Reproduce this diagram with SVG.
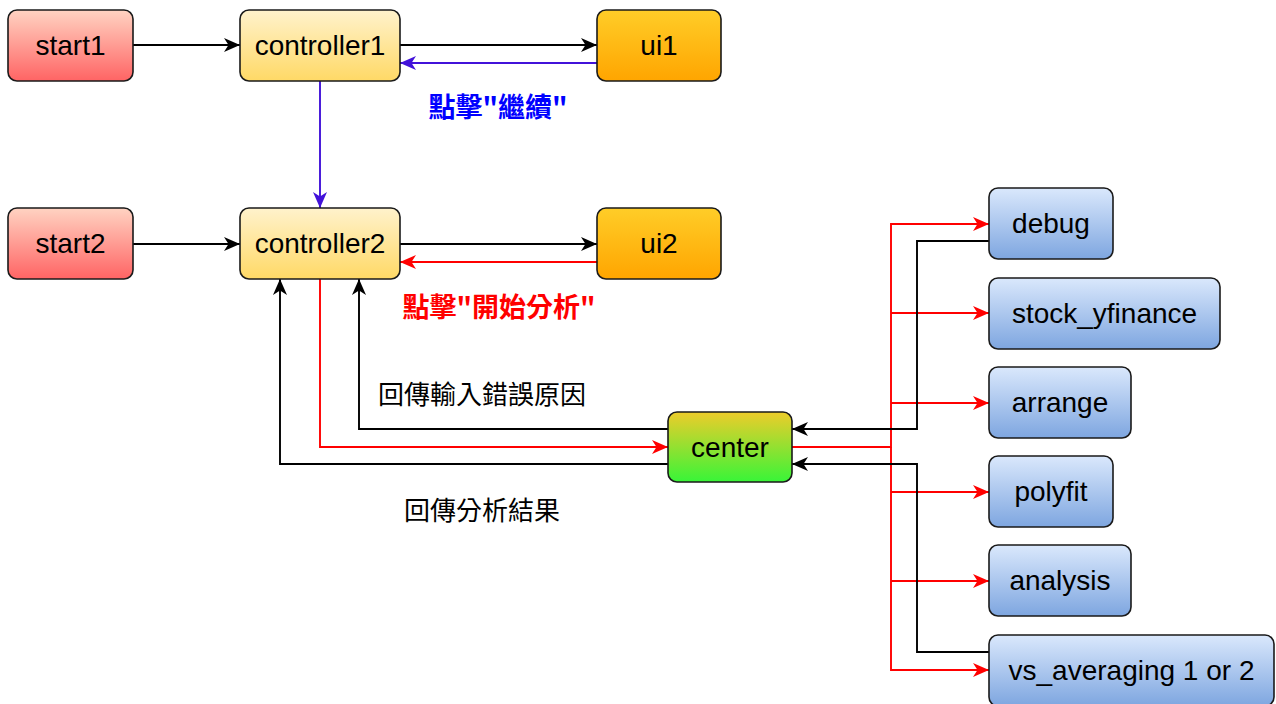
<svg xmlns="http://www.w3.org/2000/svg" width="1276" height="704" viewBox="0 0 1276 704">
<defs>
<linearGradient id="gRed" x1="0" y1="0" x2="0" y2="1"><stop offset="0" stop-color="#ffd3c2"/><stop offset="1" stop-color="#ff6464"/></linearGradient>
<linearGradient id="gYel" x1="0" y1="0" x2="0" y2="1"><stop offset="0" stop-color="#fff2cc"/><stop offset="1" stop-color="#ffd966"/></linearGradient>
<linearGradient id="gOra" x1="0" y1="0" x2="0" y2="1"><stop offset="0" stop-color="#ffcd28"/><stop offset="1" stop-color="#ffa500"/></linearGradient>
<linearGradient id="gGrn" x1="0" y1="0" x2="0" y2="1"><stop offset="0" stop-color="#eecc2a"/><stop offset="1" stop-color="#38f538"/></linearGradient>
<linearGradient id="gBlu" x1="0" y1="0" x2="0" y2="1"><stop offset="0" stop-color="#dae8fc"/><stop offset="1" stop-color="#7ea6e0"/></linearGradient>
<marker id="aK" markerUnits="userSpaceOnUse" markerWidth="18" markerHeight="16" refX="16" refY="8" orient="auto"><path d="M0,1 L16,8 L0,15 L4.5,8 z" fill="#000"/></marker>
<marker id="aR" markerUnits="userSpaceOnUse" markerWidth="18" markerHeight="16" refX="16" refY="8" orient="auto"><path d="M0,1 L16,8 L0,15 L4.5,8 z" fill="#ff0000"/></marker>
<marker id="aP" markerUnits="userSpaceOnUse" markerWidth="18" markerHeight="16" refX="16" refY="8" orient="auto"><path d="M0,1 L16,8 L0,15 L4.5,8 z" fill="#4212d9"/></marker>
</defs>
<style>
.n{stroke:#1a1a1a;stroke-width:1.6}
.t{font-family:"Liberation Sans",Arial,sans-serif;font-size:28px;fill:#000;text-anchor:middle;dominant-baseline:central}
.c{fill:none;stroke-width:1.9}
.k{stroke:#000}
.r{stroke:#ff0000}
.p{stroke:#4212d9}
.lab{font-family:"Noto Sans CJK TC","Noto Sans CJK SC",sans-serif;font-size:26px;text-anchor:middle;dominant-baseline:central}
.b{font-size:27px;font-weight:bold}
</style>
<rect width="1276" height="704" fill="#fff"/>
<g id="connectors">
<path class="c k" d="M133,45 H240" marker-end="url(#aK)"/>
<path class="c k" d="M400,45 H597" marker-end="url(#aK)"/>
<path class="c p" d="M597,63 H400" marker-end="url(#aP)"/>
<path class="c p" d="M320,81 V208" marker-end="url(#aP)"/>
<path class="c k" d="M133,244 H240" marker-end="url(#aK)"/>
<path class="c k" d="M400,244 H597" marker-end="url(#aK)"/>
<path class="c r" d="M597,262 H400" marker-end="url(#aR)"/>
<path class="c r" d="M320,279 V447 H668" marker-end="url(#aR)"/>
<path class="c k" d="M668,429 H359 V279" marker-end="url(#aK)"/>
<path class="c k" d="M668,464 H280 V279" marker-end="url(#aK)"/>
<path class="c r" d="M792,447 H891 V224 H989" marker-end="url(#aR)"/>
<path class="c r" d="M891,313 H989" marker-end="url(#aR)"/>
<path class="c r" d="M891,403 H989" marker-end="url(#aR)"/>
<path class="c r" d="M891,492 H989" marker-end="url(#aR)"/>
<path class="c r" d="M891,581 H989" marker-end="url(#aR)"/>
<path class="c r" d="M891,447 V670 H989" marker-end="url(#aR)"/>
<path class="c k" d="M989,241 H917 V429 H792" marker-end="url(#aK)"/>
<path class="c k" d="M989,652 H917 V464 H792" marker-end="url(#aK)"/>
<text class="lab b" x="498" y="105" fill="#0000ff">點擊"繼續"</text>
<text class="lab b" x="499" y="305" fill="#ff0000">點擊"開始分析"</text>
<text class="lab" x="482" y="392" fill="#000">回傳輸入錯誤原因</text>
<text class="lab" x="482" y="508" fill="#000">回傳分析結果</text>
</g>
<g id="start1"><rect class="n" x="8" y="10" width="125" height="71" rx="9" fill="url(#gRed)"/><text class="t" x="70.5" y="45.5">start1</text></g>
<g id="controller1"><rect class="n" x="240" y="10" width="160" height="71" rx="9" fill="url(#gYel)"/><text class="t" x="320" y="45.5">controller1</text></g>
<g id="ui1"><rect class="n" x="597" y="10" width="124" height="71" rx="9" fill="url(#gOra)"/><text class="t" x="659" y="45.5">ui1</text></g>
<g id="start2"><rect class="n" x="8" y="208" width="125" height="71" rx="9" fill="url(#gRed)"/><text class="t" x="70.5" y="243.5">start2</text></g>
<g id="controller2"><rect class="n" x="240" y="208" width="160" height="71" rx="9" fill="url(#gYel)"/><text class="t" x="320" y="243.5">controller2</text></g>
<g id="ui2"><rect class="n" x="597" y="208" width="124" height="71" rx="9" fill="url(#gOra)"/><text class="t" x="659" y="243.5">ui2</text></g>
<g id="center"><rect class="n" x="668" y="412" width="124" height="70" rx="9" fill="url(#gGrn)"/><text class="t" x="730" y="447">center</text></g>
<g id="debug"><rect class="n" x="989" y="188" width="124" height="71" rx="9" fill="url(#gBlu)"/><text class="t" x="1051" y="223.5">debug</text></g>
<g id="stock_yfinance"><rect class="n" x="989" y="278" width="231" height="71" rx="9" fill="url(#gBlu)"/><text class="t" x="1104.5" y="313.5">stock_yfinance</text></g>
<g id="arrange"><rect class="n" x="989" y="367" width="142" height="71" rx="9" fill="url(#gBlu)"/><text class="t" x="1060" y="402.5">arrange</text></g>
<g id="polyfit"><rect class="n" x="989" y="456" width="124" height="71" rx="9" fill="url(#gBlu)"/><text class="t" x="1051" y="491.5">polyfit</text></g>
<g id="analysis"><rect class="n" x="989" y="545" width="142" height="71" rx="9" fill="url(#gBlu)"/><text class="t" x="1060" y="580.5">analysis</text></g>
<g id="vs_averaging"><rect class="n" x="989" y="635" width="285" height="71" rx="9" fill="url(#gBlu)"/><text class="t" x="1131.5" y="670">vs_averaging 1 or 2</text></g>
</svg>
